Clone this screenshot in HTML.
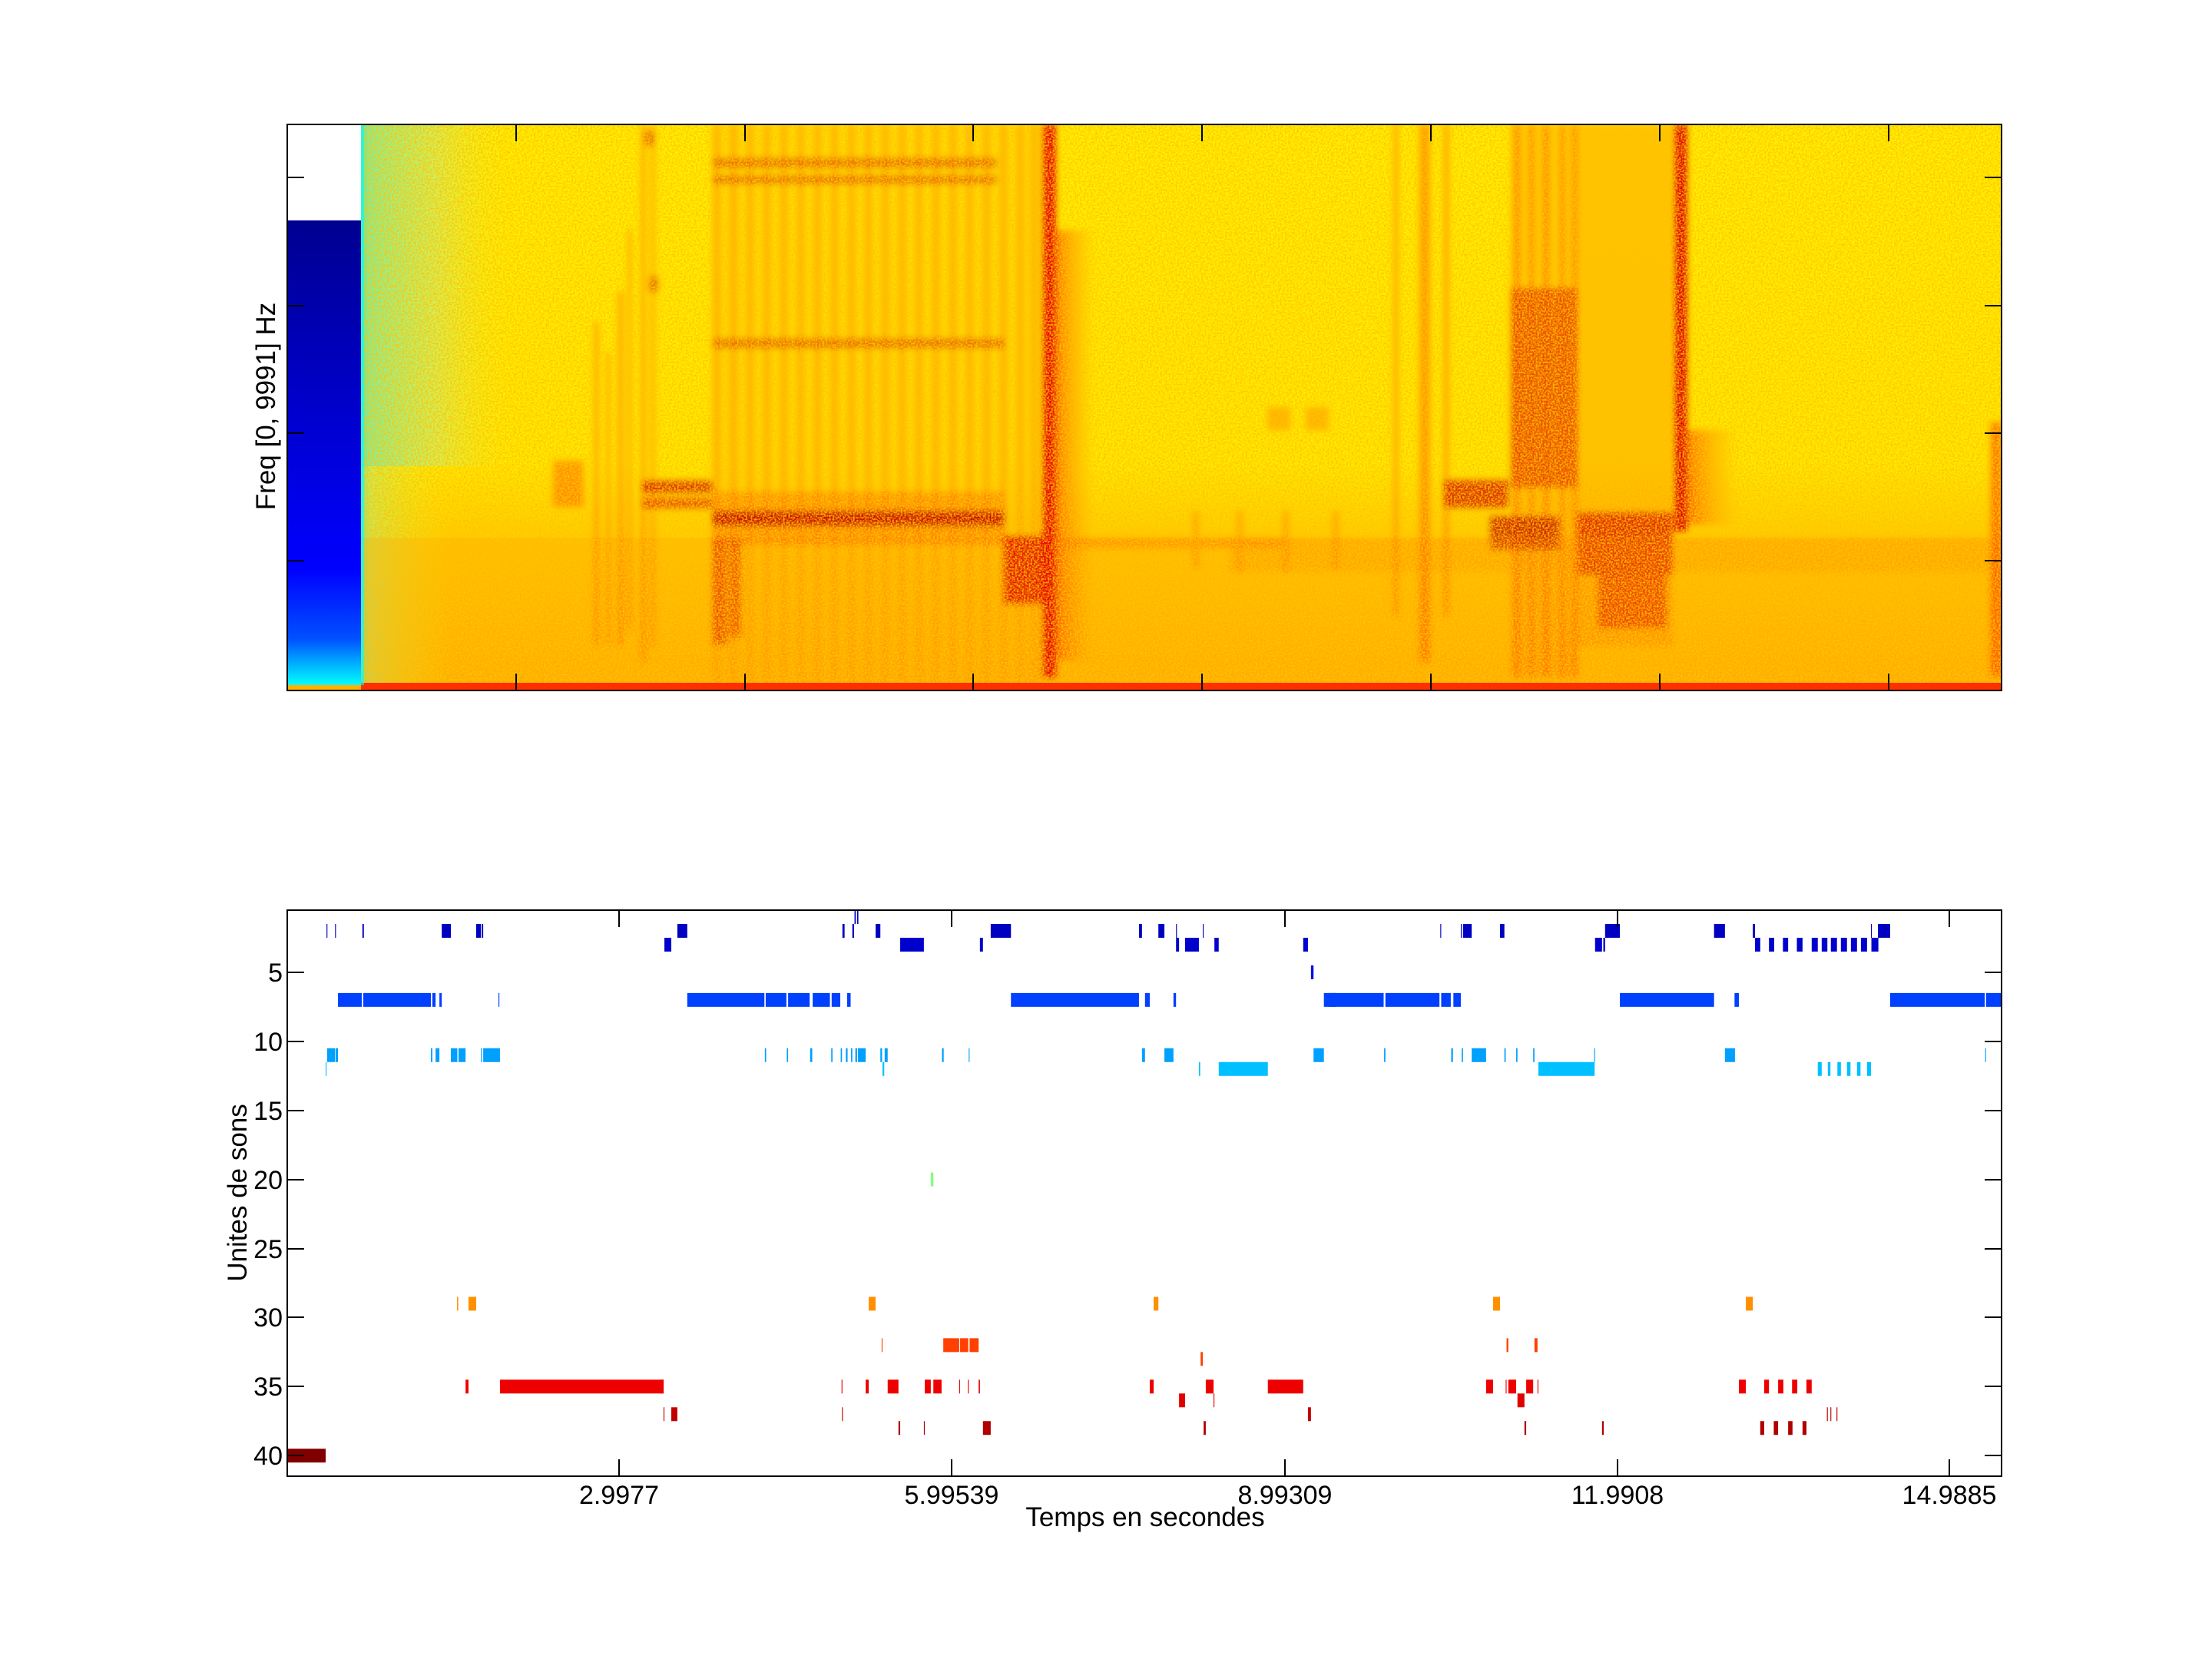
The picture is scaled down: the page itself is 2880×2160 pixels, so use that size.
<!DOCTYPE html>
<html><head><meta charset="utf-8"><style>html,body{margin:0;padding:0;background:#fff}svg{display:block}text{font-family:"Liberation Sans",Arial,sans-serif;fill:#000}</style></head>
<body>
<svg width="2880" height="2160" viewBox="0 0 2880 2160" xmlns="http://www.w3.org/2000/svg">
<defs>
<clipPath id="c1"><rect x="374" y="162" width="2232" height="737"/></clipPath>
<linearGradient id="bg" x1="0" y1="0" x2="0" y2="1">
<stop offset="0" stop-color="#fff000"/><stop offset="0.6" stop-color="#ffea00"/><stop offset="0.72" stop-color="#ffcf00"/><stop offset="1" stop-color="#ffb400"/></linearGradient>
<linearGradient id="cb" x1="0" y1="0" x2="0" y2="1">
<stop offset="0" stop-color="#000090"/><stop offset="0.75" stop-color="#0000ff"/><stop offset="0.9" stop-color="#0050ff"/><stop offset="1" stop-color="#00ffff"/></linearGradient>
<linearGradient id="gr" x1="0" y1="0" x2="1" y2="0">
<stop offset="0" stop-color="#40f0c0"/><stop offset="0.05" stop-color="#80f0a0"/><stop offset="0.5" stop-color="#c8f070" stop-opacity="0.8"/><stop offset="1" stop-color="#f8f010" stop-opacity="0"/></linearGradient>
<linearGradient id="gr2" x1="0" y1="0" x2="1" y2="0">
<stop offset="0" stop-color="#60f0b0"/><stop offset="0.1" stop-color="#b0f080" stop-opacity="0.7"/><stop offset="1" stop-color="#f8f010" stop-opacity="0"/></linearGradient>
<linearGradient id="hz" x1="0" y1="0" x2="1" y2="0">
<stop offset="0" stop-color="#ff5000" stop-opacity="0.8"/><stop offset="1" stop-color="#ff9000" stop-opacity="0"/></linearGradient>
<filter id="nz" x="0" y="0" width="1" height="1"><feTurbulence type="fractalNoise" baseFrequency="0.45" numOctaves="1" seed="4"/><feColorMatrix type="matrix" values="0 0 0 0 1  0 0 0 0 0.55  0 0 0 0 0  0 0 0 3.4 -1.3"/></filter>
<filter id="bl" x="-5%" y="-5%" width="110%" height="110%"><feGaussianBlur stdDeviation="4"/></filter>
</defs>

<g clip-path="url(#c1)">
<rect x="374" y="162" width="2232" height="737" fill="url(#bg)"/>
<rect x="470" y="162" width="200" height="445" fill="url(#gr)"/>
<rect x="470" y="607" width="120" height="285" fill="url(#gr2)"/>
<rect x="470" y="700" width="2136" height="190" fill="#ff9000" opacity="0.25"/>
<g filter="url(#bl)">
<g fill="#ff4000" opacity="0.5">
<rect x="774" y="420" width="5" height="420"/><rect x="790" y="460" width="4" height="380"/><rect x="805" y="380" width="6" height="460"/><rect x="818" y="300" width="4" height="520"/><rect x="835" y="162" width="5" height="700"/><rect x="848" y="162" width="4" height="680"/>
<rect x="720" y="600" width="40" height="60"/>
</g>
<rect x="836" y="626" width="92" height="16" fill="#d01000" opacity="0.8"/>
<rect x="836" y="648" width="92" height="14" fill="#e02000" opacity="0.7"/>
<rect x="840" y="170" width="12" height="20" fill="#d03000" opacity="0.6"/>
<rect x="845" y="360" width="12" height="20" fill="#d03000" opacity="0.6"/>
<g fill="#ff8a00" opacity="0.6">
<rect x="928" y="162" width="10" height="730"/><rect x="950" y="162" width="10" height="730"/><rect x="972" y="162" width="9" height="730"/><rect x="994" y="162" width="9" height="730"/><rect x="1016" y="162" width="9" height="730"/><rect x="1038" y="162" width="9" height="730"/><rect x="1060" y="162" width="9" height="730"/><rect x="1082" y="162" width="9" height="730"/><rect x="1104" y="162" width="9" height="730"/><rect x="1126" y="162" width="9" height="730"/><rect x="1148" y="162" width="9" height="730"/><rect x="1170" y="162" width="9" height="730"/><rect x="1192" y="162" width="9" height="730"/><rect x="1214" y="162" width="9" height="730"/><rect x="1236" y="162" width="9" height="730"/><rect x="1258" y="162" width="9" height="730"/><rect x="1280" y="162" width="9" height="730"/><rect x="1302" y="162" width="9" height="730"/><rect x="1324" y="162" width="9" height="730"/><rect x="1342" y="162" width="9" height="730"/>
</g>
<rect x="928" y="162" width="430" height="730" fill="#ffa000" opacity="0.2"/>
<rect x="928" y="640" width="380" height="70" fill="#ff4000" opacity="0.35"/>
<rect x="928" y="665" width="380" height="20" fill="#c00000" opacity="0.85"/>
<rect x="928" y="700" width="20" height="140" fill="#e00000" opacity="0.5"/>
<rect x="950" y="700" width="16" height="130" fill="#e00000" opacity="0.45"/>
<g fill="#d83000" opacity="0.55">
<rect x="928" y="205" width="370" height="14"/><rect x="928" y="228" width="370" height="12"/>
<rect x="928" y="440" width="380" height="14"/>
</g>
<rect x="1306" y="697" width="51" height="90" fill="#e00000" opacity="0.8"/>
<rect x="1357" y="162" width="18" height="720" fill="#e80000"/>
<rect x="1375" y="300" width="50" height="560" fill="url(#hz)"/>
<g fill="#ff6000" opacity="0.4">
<rect x="1553" y="665" width="8" height="75"/><rect x="1610" y="665" width="8" height="80"/><rect x="1670" y="665" width="8" height="80"/><rect x="1735" y="665" width="8" height="75"/>
<rect x="1650" y="530" width="30" height="30"/><rect x="1700" y="530" width="30" height="30"/>
<rect x="1380" y="700" width="300" height="14"/>
</g>
<g fill="#ff4000" opacity="0.5">
<rect x="1815" y="162" width="5" height="640"/><rect x="1848" y="162" width="14" height="700"/><rect x="1880" y="162" width="6" height="640"/>
</g>
<g fill="#ff3000" opacity="0.45">
<rect x="1970" y="162" width="10" height="720"/><rect x="1990" y="162" width="8" height="720"/><rect x="2008" y="162" width="10" height="720"/><rect x="2030" y="162" width="8" height="720"/><rect x="2046" y="162" width="8" height="720"/>
</g>
<rect x="1967" y="162" width="87" height="720" fill="#ff7000" opacity="0.25"/>
<rect x="1967" y="375" width="87" height="260" fill="#e01800" opacity="0.6"/>
<rect x="1880" y="625" width="84" height="36" fill="#d00000" opacity="0.75"/>
<rect x="1940" y="672" width="90" height="44" fill="#c00000" opacity="0.75"/>
<rect x="2054" y="162" width="124" height="680" fill="#ff6000" opacity="0.3"/>
<rect x="2054" y="667" width="124" height="81" fill="#d80000" opacity="0.75"/>
<rect x="2080" y="748" width="90" height="70" fill="#e00000" opacity="0.5"/>
<rect x="2180" y="162" width="17" height="530" fill="#e00000"/>
<rect x="2197" y="560" width="66" height="123" fill="url(#hz)"/>
<rect x="1600" y="700" width="1000" height="45" fill="#ff8000" opacity="0.3"/>
<rect x="2592" y="550" width="14" height="330" fill="#ff2000" opacity="0.6"/>
</g>
<rect x="470" y="162" width="2136" height="737" filter="url(#nz)" opacity="0.85"/>
<rect x="374" y="889" width="2232" height="10" fill="#ff3000"/>
<rect x="374" y="162" width="96" height="125" fill="#fff"/>
<rect x="374" y="287" width="96" height="605" fill="url(#cb)"/>
<rect x="470" y="162" width="4" height="730" fill="#00ffff" opacity="0.6"/>
<rect x="374" y="892" width="96" height="7" fill="#ffb000"/>
</g>
<g stroke="#000" stroke-width="2" fill="none">
<rect x="374" y="162" width="2232" height="737"/>
<path d="M672 162v22M970 162v22M1267 162v22M1565 162v22M1863 162v22M2161 162v22M2459 162v22M672 899v-22M970 899v-22M1267 899v-22M1565 899v-22M1863 899v-22M2161 899v-22M2459 899v-22"/>
<path d="M374 231h22M374 398h22M374 564h22M374 730h22M2606 231h-22M2606 398h-22M2606 564h-22M2606 730h-22"/>
</g>
<text transform="translate(358,529) rotate(-90)" text-anchor="middle" font-size="35">Freq [0, 9991] Hz</text>

<style>
.r1,.r2{fill:#0000c0}.r3{fill:#0000cd}.r5{fill:#0010e0}.r7{fill:#0040ff}.r11{fill:#00a0ff}.r12{fill:#00c0ff}.r20{fill:#80ff80}.r29{fill:#ff9000}.r32,.r33{fill:#ff4000}.r35{fill:#ee0000}.r36{fill:#e00000}.r37{fill:#c00000}.r38{fill:#b00000}.r40{fill:#800000}
</style>
<g transform="translate(300,1167.02) scale(0.3827,17.98)">
<rect class="r2" x="327" y="2" width="3" height="1"/><rect class="r2" x="356" y="2" width="3" height="1"/><rect class="r2" x="449" y="2" width="5" height="1"/><rect class="r2" x="719" y="2" width="31" height="1"/><rect class="r2" x="836" y="2" width="16" height="1"/><rect class="r2" x="855" y="2" width="5" height="1"/>
<rect class="r7" x="366" y="7" width="81" height="1"/><rect class="r7" x="452" y="7" width="230" height="1"/><rect class="r7" x="687" y="7" width="11" height="1"/><rect class="r7" x="711" y="7" width="8" height="1"/><rect class="r7" x="912" y="7" width="3" height="1"/>
<rect class="r11" x="329" y="11" width="27" height="1"/><rect class="r11" x="358" y="11" width="8" height="1"/><rect class="r11" x="682" y="11" width="5" height="1"/><rect class="r11" x="698" y="11" width="13" height="1"/><rect class="r11" x="750" y="11" width="22" height="1"/><rect class="r11" x="776" y="11" width="24" height="1"/><rect class="r11" x="852" y="11" width="3" height="1"/><rect class="r11" x="860" y="11" width="57" height="1"/>
<rect class="r12" x="324" y="12" width="3" height="1"/>
<rect class="r29" x="771" y="29" width="4" height="1"/><rect class="r29" x="810" y="29" width="26" height="1"/>
<rect class="r35" x="800" y="35" width="10" height="1"/><rect class="r35" x="917" y="35" width="557" height="1"/>
<rect class="r40" x="194" y="40" width="130" height="1"/>
</g>
<g transform="translate(860,1167.02) scale(0.5612,17.98)">
<rect class="r1" x="450" y="1" width="3" height="1"/><rect class="r1" x="456" y="1" width="3" height="1"/>
<rect class="r2" x="39" y="2" width="23" height="1"/><rect class="r2" x="422" y="2" width="5" height="1"/><rect class="r2" x="445" y="2" width="4" height="1"/><rect class="r2" x="499" y="2" width="11" height="1"/><rect class="r2" x="766" y="2" width="47" height="1"/><rect class="r2" x="1110" y="2" width="7" height="1"/><rect class="r2" x="1155" y="2" width="14" height="1"/><rect class="r2" x="1196" y="2" width="2" height="1"/><rect class="r2" x="1258" y="2" width="2" height="1"/>
<rect class="r3" x="9" y="3" width="16" height="1"/><rect class="r3" x="556" y="3" width="55" height="1"/><rect class="r3" x="741" y="3" width="7" height="1"/><rect class="r3" x="1196" y="3" width="7" height="1"/><rect class="r3" x="1217" y="3" width="32" height="1"/><rect class="r3" x="1285" y="3" width="10" height="1"/><rect class="r3" x="1491" y="3" width="11" height="1"/>
<rect class="r5" x="1509" y="5" width="6" height="1"/>
<rect class="r7" x="62" y="7" width="179" height="1"/><rect class="r7" x="244" y="7" width="48" height="1"/><rect class="r7" x="296" y="7" width="50" height="1"/><rect class="r7" x="353" y="7" width="40" height="1"/><rect class="r7" x="397" y="7" width="20" height="1"/><rect class="r7" x="433" y="7" width="8" height="1"/><rect class="r7" x="813" y="7" width="297" height="1"/><rect class="r7" x="1124" y="7" width="11" height="1"/><rect class="r7" x="1190" y="7" width="6" height="1"/><rect class="r7" x="1539" y="7" width="29" height="1"/>
<rect class="r11" x="242" y="11" width="3" height="1"/><rect class="r11" x="293" y="11" width="3" height="1"/><rect class="r11" x="347" y="11" width="5" height="1"/><rect class="r11" x="396" y="11" width="3" height="1"/><rect class="r11" x="418" y="11" width="3" height="1"/><rect class="r11" x="430" y="11" width="4" height="1"/><rect class="r11" x="442" y="11" width="3" height="1"/><rect class="r11" x="452" y="11" width="4" height="1"/><rect class="r11" x="458" y="11" width="18" height="1"/><rect class="r11" x="510" y="11" width="4" height="1"/><rect class="r11" x="520" y="11" width="7" height="1"/><rect class="r11" x="653" y="11" width="4" height="1"/><rect class="r11" x="715" y="11" width="2" height="1"/><rect class="r11" x="1117" y="11" width="7" height="1"/><rect class="r11" x="1169" y="11" width="21" height="1"/><rect class="r11" x="1515" y="11" width="24" height="1"/>
<rect class="r12" x="515" y="12" width="4" height="1"/><rect class="r12" x="1249" y="12" width="3" height="1"/><rect class="r12" x="1295" y="12" width="114" height="1"/>
<rect class="r20" x="627" y="20" width="6" height="1"/>
<rect class="r29" x="483" y="29" width="16" height="1"/><rect class="r29" x="1144" y="29" width="11" height="1"/>
<rect class="r32" x="513" y="32" width="2" height="1"/><rect class="r32" x="656" y="32" width="37" height="1"/><rect class="r32" x="695" y="32" width="19" height="1"/><rect class="r32" x="717" y="32" width="21" height="1"/>
<rect class="r33" x="1253" y="33" width="5" height="1"/>
<rect class="r35" x="0" y="35" width="7" height="1"/><rect class="r35" x="420" y="35" width="2" height="1"/><rect class="r35" x="476" y="35" width="7" height="1"/><rect class="r35" x="527" y="35" width="25" height="1"/><rect class="r35" x="613" y="35" width="14" height="1"/><rect class="r35" x="633" y="35" width="19" height="1"/><rect class="r35" x="693" y="35" width="2" height="1"/><rect class="r35" x="713" y="35" width="2" height="1"/><rect class="r35" x="738" y="35" width="3" height="1"/><rect class="r35" x="1135" y="35" width="9" height="1"/><rect class="r35" x="1265" y="35" width="18" height="1"/><rect class="r35" x="1409" y="35" width="82" height="1"/>
<rect class="r36" x="1203" y="36" width="14" height="1"/><rect class="r36" x="1283" y="36" width="2" height="1"/>
<rect class="r37" x="7" y="37" width="2" height="1"/><rect class="r37" x="25" y="37" width="14" height="1"/><rect class="r37" x="421" y="37" width="2" height="1"/><rect class="r37" x="1502" y="37" width="7" height="1"/>
<rect class="r38" x="552" y="38" width="4" height="1"/><rect class="r38" x="611" y="38" width="2" height="1"/><rect class="r38" x="748" y="38" width="18" height="1"/><rect class="r38" x="1260" y="38" width="5" height="1"/>
</g>
<g transform="translate(1730,1167.02) scale(0.5675,17.98)">
<rect class="r2" x="256" y="2" width="2" height="1"/><rect class="r2" x="303" y="2" width="2" height="1"/><rect class="r2" x="308" y="2" width="20" height="1"/><rect class="r2" x="393" y="2" width="10" height="1"/><rect class="r2" x="634" y="2" width="34" height="1"/><rect class="r2" x="884" y="2" width="25" height="1"/><rect class="r2" x="973" y="2" width="5" height="1"/><rect class="r2" x="1244" y="2" width="2" height="1"/><rect class="r2" x="1260" y="2" width="28" height="1"/>
<rect class="r3" x="611" y="3" width="16" height="1"/><rect class="r3" x="630" y="3" width="4" height="1"/><rect class="r3" x="978" y="3" width="12" height="1"/><rect class="r3" x="1010" y="3" width="12" height="1"/><rect class="r3" x="1042" y="3" width="12" height="1"/><rect class="r3" x="1074" y="3" width="13" height="1"/><rect class="r3" x="1108" y="3" width="14" height="1"/><rect class="r3" x="1131" y="3" width="13" height="1"/><rect class="r3" x="1152" y="3" width="14" height="1"/><rect class="r3" x="1175" y="3" width="14" height="1"/><rect class="r3" x="1198" y="3" width="14" height="1"/><rect class="r3" x="1221" y="3" width="14" height="1"/><rect class="r3" x="1245" y="3" width="16" height="1"/>
<rect class="r7" x="0" y="7" width="126" height="1"/><rect class="r7" x="130" y="7" width="124" height="1"/><rect class="r7" x="258" y="7" width="22" height="1"/><rect class="r7" x="286" y="7" width="17" height="1"/><rect class="r7" x="668" y="7" width="216" height="1"/><rect class="r7" x="931" y="7" width="10" height="1"/><rect class="r7" x="1288" y="7" width="217" height="1"/><rect class="r7" x="1508" y="7" width="35" height="1"/>
<rect class="r11" x="127" y="11" width="3" height="1"/><rect class="r11" x="281" y="11" width="4" height="1"/><rect class="r11" x="305" y="11" width="3" height="1"/><rect class="r11" x="328" y="11" width="33" height="1"/><rect class="r11" x="403" y="11" width="3" height="1"/><rect class="r11" x="430" y="11" width="3" height="1"/><rect class="r11" x="469" y="11" width="3" height="1"/><rect class="r11" x="609" y="11" width="2" height="1"/><rect class="r11" x="909" y="11" width="23" height="1"/><rect class="r11" x="1506" y="11" width="2" height="1"/>
<rect class="r12" x="481" y="12" width="129" height="1"/><rect class="r12" x="1122" y="12" width="9" height="1"/><rect class="r12" x="1145" y="12" width="6" height="1"/><rect class="r12" x="1167" y="12" width="8" height="1"/><rect class="r12" x="1189" y="12" width="8" height="1"/><rect class="r12" x="1212" y="12" width="8" height="1"/><rect class="r12" x="1235" y="12" width="9" height="1"/>
<rect class="r29" x="377" y="29" width="16" height="1"/><rect class="r29" x="957" y="29" width="16" height="1"/>
<rect class="r32" x="408" y="32" width="4" height="1"/><rect class="r32" x="472" y="32" width="7" height="1"/>
<rect class="r35" x="361" y="35" width="16" height="1"/><rect class="r35" x="406" y="35" width="2" height="1"/><rect class="r35" x="412" y="35" width="18" height="1"/><rect class="r35" x="453" y="35" width="16" height="1"/><rect class="r35" x="479" y="35" width="2" height="1"/><rect class="r35" x="941" y="35" width="16" height="1"/><rect class="r35" x="999" y="35" width="11" height="1"/><rect class="r35" x="1031" y="35" width="12" height="1"/><rect class="r35" x="1063" y="35" width="12" height="1"/><rect class="r35" x="1096" y="35" width="12" height="1"/>
<rect class="r36" x="433" y="36" width="16" height="1"/>
<rect class="r37" x="1143" y="37" width="2" height="1"/><rect class="r37" x="1151" y="37" width="2" height="1"/><rect class="r37" x="1165" y="37" width="2" height="1"/>
<rect class="r38" x="449" y="38" width="4" height="1"/><rect class="r38" x="627" y="38" width="4" height="1"/><rect class="r38" x="990" y="38" width="9" height="1"/><rect class="r38" x="1021" y="38" width="10" height="1"/><rect class="r38" x="1054" y="38" width="10" height="1"/><rect class="r38" x="1087" y="38" width="9" height="1"/>
</g>
<g stroke="#000" stroke-width="2" fill="none">
<rect x="374" y="1185" width="2232" height="737"/>
<path d="M806 1185v22M1239 1185v22M1673 1185v22M2106 1185v22M2538 1185v22M806 1922v-22M1239 1922v-22M1673 1922v-22M2106 1922v-22M2538 1922v-22"/>
<path d="M374 1266h22M374 1356h22M374 1446h22M374 1536h22M374 1626h22M374 1715h22M374 1805h22M374 1895h22M2606 1266h-22M2606 1356h-22M2606 1446h-22M2606 1536h-22M2606 1626h-22M2606 1715h-22M2606 1805h-22M2606 1895h-22"/>
</g>
<g font-size="34" text-anchor="end">
<text x="368" y="1278">5</text><text x="368" y="1368">10</text><text x="368" y="1458">15</text><text x="368" y="1548">20</text><text x="368" y="1638">25</text><text x="368" y="1727">30</text><text x="368" y="1817">35</text><text x="368" y="1907">40</text>
</g>
<g font-size="34" text-anchor="middle">
<text x="806" y="1958">2.9977</text><text x="1239" y="1958">5.99539</text><text x="1673" y="1958">8.99309</text><text x="2106" y="1958">11.9908</text><text x="2538" y="1958">14.9885</text>
<text x="1491" y="1987" font-size="35">Temps en secondes</text>
</g>
<text transform="translate(321,1553) rotate(-90)" text-anchor="middle" font-size="35">Unites de sons</text>
</svg>
</body></html>
